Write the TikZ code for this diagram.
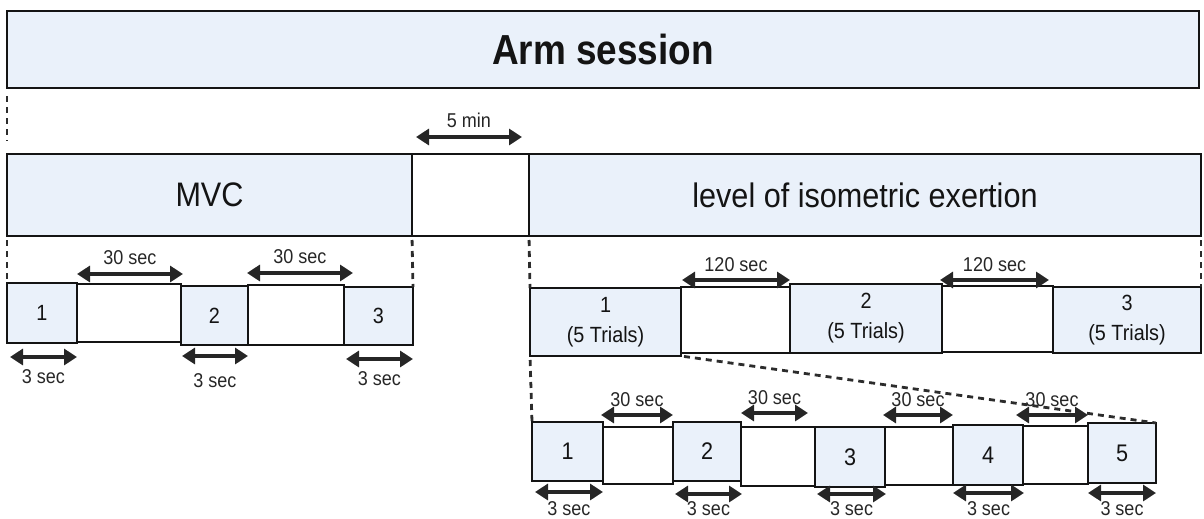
\documentclass[tikz,border=0pt]{standalone}
\usepackage{fontspec}
\setmainfont{Liberation Sans}[FakeStretch=0.9]
\newfontfamily\titlefont[FakeStretch=0.88]{Liberation Sans}
\usetikzlibrary{arrows.meta}
\definecolor{boxblue}{HTML}{EAF1FA}
\definecolor{ink}{HTML}{141414}
\definecolor{lbl}{HTML}{262626}

\begin{document}
\begin{tikzpicture}[x=1pt,y=-1pt,
  blk/.style={draw=ink, line width=2.6pt, fill=boxblue, anchor=north west,
    inner sep=0pt, outer sep=0pt, text=ink},
  rest/.style={draw=ink, line width=2pt, fill=white, anchor=north west,
    inner sep=0pt, outer sep=0pt},
  guide/.style={draw=ink!90, line width=2.8pt, dash pattern=on 6pt off 5pt},
  dur/.style={draw=lbl, line width=3.2pt,
    {Triangle[length=13pt,width=16pt]}-{Triangle[length=13pt,width=16pt]}},
  tl/.style={font=\fontsize{20}{22}\selectfont, text=lbl, inner sep=0pt},
  big/.style={font=\fontsize{34}{38}\selectfont},
  num/.style={font=\fontsize{22}{26}\selectfont},
  numb/.style={font=\fontsize{24}{28}\selectfont},
  trial/.style={font=\fontsize{22}{30}\selectfont, align=center},
]
\useasboundingbox (0,0) rectangle (1204,519);

% ---- session and phases ----
\node[blk, line width=2.8pt, minimum width=1192pt, minimum height=77pt,
  font=\titlefont\bfseries\fontsize{42}{46}\selectfont] (arm) at (7,11) {Arm session};
\node[rest, minimum width=117pt, minimum height=82pt] (pause) at (412,154) {};
\node[blk, big, minimum width=405pt, minimum height=82pt] (mvc) at (7,154) {MVC};
\node[blk, big, minimum width=672pt, minimum height=82pt] (lvl) at (529,154) {level of isometric exertion};

% ---- MVC repetitions ----
\node[rest, minimum width=104pt, minimum height=58pt] (mg1) at (77,284) {};
\node[rest, minimum width=96pt, minimum height=60pt] (mg2) at (248,285) {};
\node[blk, num, minimum width=70pt, minimum height=60pt] (m1) at (7,283) {1};
\node[blk, num, minimum width=67pt, minimum height=59pt] (m2) at (181,286) {2};
\node[blk, num, minimum width=69pt, minimum height=58pt] (m3) at (344,287) {3};

% ---- exertion levels ----
\node[rest, minimum width=109pt, minimum height=66pt] (lg1) at (681,287) {};
\node[rest, minimum width=111pt, minimum height=66pt] (lg2) at (942,286) {};
\node[blk, trial, minimum width=151pt, minimum height=68pt] (l1) at (530,288) {1\\(5 Trials)};
\node[blk, trial, minimum width=152pt, minimum height=69pt] (l2) at (790,284) {2\\(5 Trials)};
\node[blk, trial, minimum width=148pt, minimum height=66pt] (l3) at (1053,287) {3\\(5 Trials)};

% ---- trials of one level ----
\node[rest, minimum width=70pt, minimum height=57pt] (tg1) at (603,427) {};
\node[rest, minimum width=74pt, minimum height=59pt] (tg2) at (741,427) {};
\node[rest, minimum width=68pt, minimum height=58pt] (tg3) at (885,427) {};
\node[rest, minimum width=65pt, minimum height=58pt] (tg4) at (1023,426) {};
\node[blk, numb, minimum width=71pt, minimum height=59pt] (t1) at (532,422) {1};
\node[blk, numb, minimum width=68pt, minimum height=59pt] (t2) at (673,422) {2};
\node[blk, numb, minimum width=70pt, minimum height=60pt] (t3) at (815,427) {3};
\node[blk, numb, minimum width=70pt, minimum height=60pt] (t4) at (953,425) {4};
\node[blk, numb, minimum width=68pt, minimum height=60pt] (t5) at (1088,423) {5};

% ---- dashed guides ----
\draw[guide, shorten <=8pt, shorten >=13pt] (arm.south west) -- (mvc.north west);
\draw[guide, shorten <=4pt] (mvc.south west) -- (m1.north west);
\draw[guide, shorten <=4pt] (mvc.south east) -- (m3.north east);
\draw[guide, shorten <=4pt] (lvl.south west) -- (l1.north west);
\draw[guide, shorten <=4pt] (lvl.south east) -- (l3.north east);
\draw[guide, shorten <=4pt] (l1.south west) -- (t1.north west);
\draw[guide, shorten <=3pt] (l1.south east) -- (t5.north east);

% ---- durations ----
\draw[dur] ([xshift=4pt,yshift=17pt]pause.north west) -- ([xshift=-7pt,yshift=17pt]pause.north east)
  node[midway, above=8pt, tl] {5 min};

\draw[dur] ([yshift=10pt]mg1.north west) -- ([xshift=2pt,yshift=10pt]mg1.north east)
  node[midway, above=8pt, tl] {30 sec};
\draw[dur] ([xshift=-1pt,yshift=12pt]mg2.north west) -- ([xshift=9pt,yshift=12pt]mg2.north east)
  node[midway, above=8pt, tl] {30 sec};
\draw[dur] ([xshift=3pt,yshift=-14pt]m1.south west) -- ([yshift=-14pt]m1.south east)
  node[midway, below=11pt, tl] {3 sec};
\draw[dur] ([xshift=1pt,yshift=-11pt]m2.south west) -- ([yshift=-11pt]m2.south east)
  node[midway, below=16pt, tl] {3 sec};
\draw[dur] ([xshift=2pt,yshift=-14pt]m3.south west) -- ([yshift=-14pt]m3.south east)
  node[midway, below=11pt, tl] {3 sec};

\draw[dur] ([xshift=1pt,yshift=7pt]lg1.north west) -- ([yshift=7pt]lg1.north east)
  node[midway, above=7pt, tl] {120 sec};
\draw[dur] ([xshift=-2pt,yshift=6pt]lg2.north west) -- ([xshift=-4pt,yshift=6pt]lg2.north east)
  node[midway, above=7pt, tl] {120 sec};

\draw[dur] ([xshift=-2pt,yshift=12pt]tg1.north west) -- ([yshift=12pt]tg1.north east)
  node[midway, above=7pt, tl] {30 sec};
\draw[dur] ([yshift=14pt]tg2.north west) -- ([xshift=-7pt,yshift=14pt]tg2.north east)
  node[midway, above=7pt, tl] {30 sec};
\draw[dur] ([xshift=-2pt,yshift=12pt]tg3.north west) -- ([yshift=12pt]tg3.north east)
  node[midway, above=7pt, tl] {30 sec};
\draw[dur] ([xshift=-7pt,yshift=11pt]tg4.north west) -- ([yshift=11pt]tg4.north east)
  node[midway, above=7pt, tl] {30 sec};

\draw[dur] ([xshift=3pt,yshift=-11pt]t1.south west) -- ([yshift=-11pt]t1.south east)
  node[midway, below=8pt, tl] {3 sec};
\draw[dur] ([xshift=2pt,yshift=-13pt]t2.south west) -- ([xshift=1pt,yshift=-13pt]t2.south east)
  node[midway, below=6pt, tl] {3 sec};
\draw[dur] ([xshift=2pt,yshift=-7pt]t3.south west) -- ([xshift=1pt,yshift=-7pt]t3.south east)
  node[midway, below=6pt, tl] {3 sec};
\draw[dur] ([yshift=-8pt]t4.south west) -- ([xshift=1pt,yshift=-8pt]t4.south east)
  node[midway, below=7pt, tl] {3 sec};
\draw[dur] ([yshift=-10pt]t5.south west) -- ([yshift=-10pt]t5.south east)
  node[midway, below=7pt, tl] {3 sec};
\end{tikzpicture}
\end{document}
